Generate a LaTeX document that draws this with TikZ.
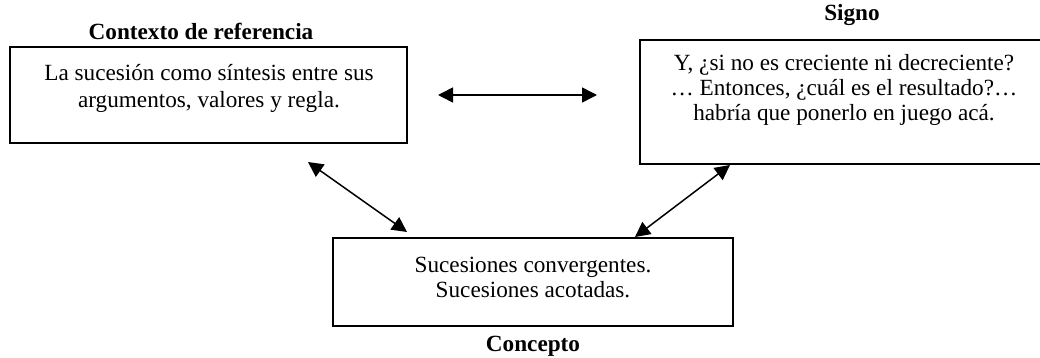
\documentclass[tikz,border=0pt]{standalone}
\usepackage{fontspec}
\setmainfont{Liberation Serif}
\usetikzlibrary{arrows.meta}
\begin{document}
\begin{tikzpicture}[x=0.5pt,y=-0.5pt,
  box/.style={draw,line width=1pt,inner sep=0pt},
  body/.style={align=center,inner sep=0pt},
  head/.style={inner sep=0pt,font=\fontsize{11.6}{13.5}\selectfont\bfseries},
  link/.style={line width=0.75pt,{Triangle[length=7.5pt,width=7.5pt]}-{Triangle[length=7.5pt,width=7.5pt]}}]
\useasboundingbox (0,0) rectangle (1040,358);
% boxes
\node[box,minimum width=397*0.5pt,minimum height=96*0.5pt] (ctx) at (208.5,95) {};
\node[box,minimum width=402*0.5pt,minimum height=124*0.5pt] (sig) at (840.5,102) {};
\node[box,minimum width=400*0.5pt,minimum height=88*0.5pt] (con) at (533,282) {};
% texts
\node[body,font=\fontsize{11.6}{13.5}\selectfont] (ctxt) at (209,88.5) {La sucesión como síntesis entre sus\\argumentos, valores y regla.};
\node[body,font=\fontsize{11.6}{12.5}\selectfont] (sigt) at (844,90) {Y, ¿si no es creciente ni decreciente?\\… Entonces, ¿cuál es el resultado?…\\habría que ponerlo en juego acá.};
\node[body,font=\fontsize{11.6}{12.5}\selectfont] (cont) at (533,277.5) {Sucesiones convergentes.\\Sucesiones acotadas.};
% headings
\node[head] (h1) at (201,31) {Contexto de referencia};
\node[head] (h2) at (852,15) {Signo};
\node[head] (h3) at (533,346) {Concepto};
% arrow ends
\coordinate (a1) at (438,95);
\coordinate (a2) at (597,95);
\coordinate (b1) at (308,162);
\coordinate (b2) at (407,232);
\coordinate (c1) at (730,165);
\coordinate (c2) at (635,237);
\draw[link] (a1) -- (a2);
\draw[link] (b1) -- (b2);
\draw[link] (c1) -- (c2);
\end{tikzpicture}
\end{document}
